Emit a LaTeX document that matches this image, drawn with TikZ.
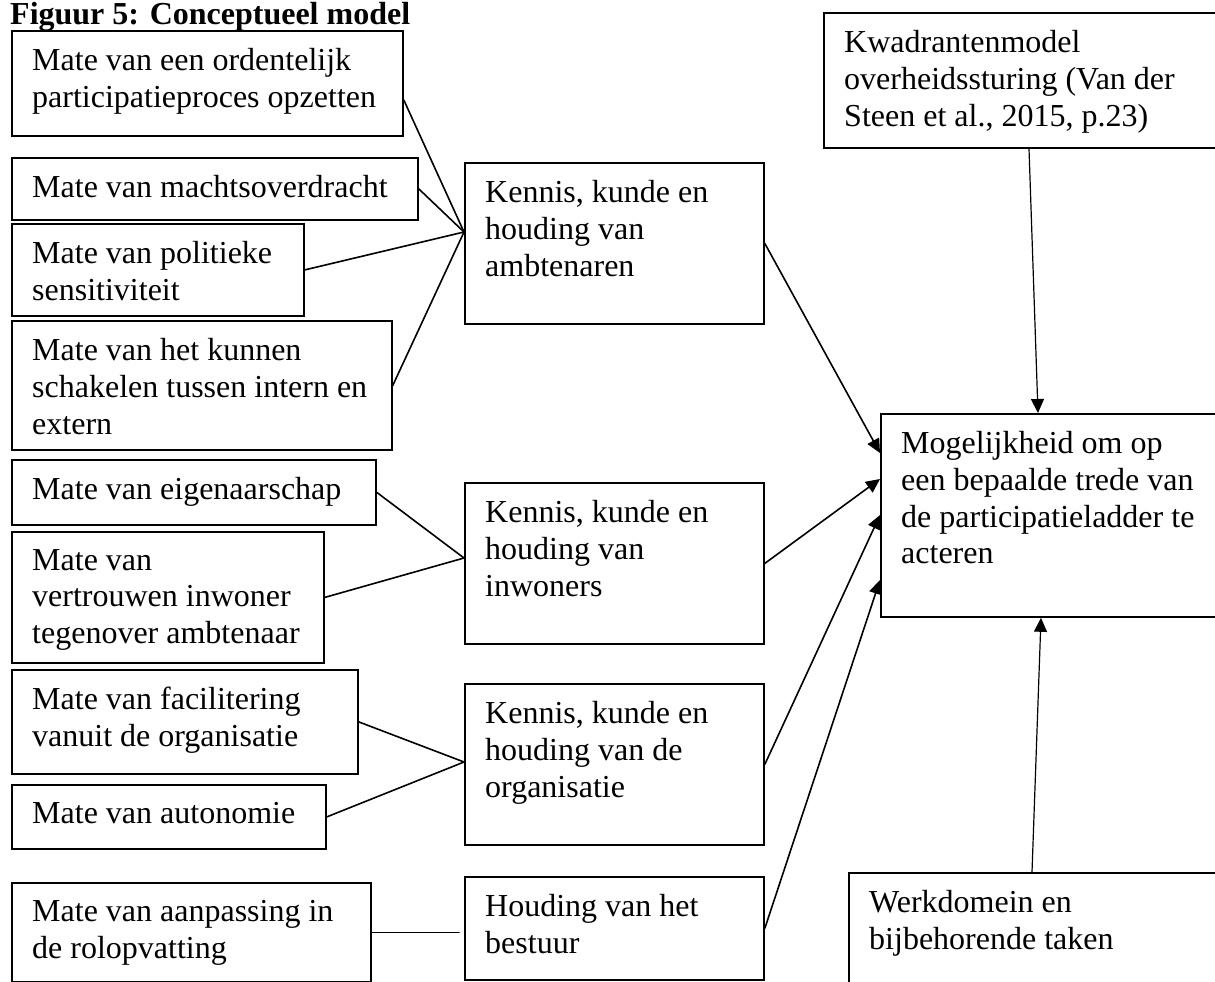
\documentclass[tikz,border=0pt]{standalone}
\usepackage{fontspec}
\setmainfont{Liberation Serif}
\usetikzlibrary{arrows.meta}
\tikzset{
  boxst/.style={draw=black, line width=1.8pt, inner sep=0pt, anchor=north west, fill=white},
  txt/.style={anchor=north west, inner sep=0pt, align=left, font=\fontsize{32}{36.8}\selectfont},
  link/.style={line width=1.6pt, line cap=round},
  arr/.style={line width=1.6pt, -{Triangle[length=14pt,width=13pt]}},
  varr/.style={line width=1.2pt, -{Triangle[length=14pt,width=13pt]}}
}
% \mkbox{name}{x1}{y1}{x2}{y2}{text}
\newcommand{\mkbox}[6]{%
  \node[boxst, minimum width=#4pt-#2pt, minimum height=#5pt-#3pt] (#1) at (#2,#3) {};
  \node[txt] (#1-t) at ([xshift=21pt,yshift=-18pt]#1.north west) {#6};
}
\begin{document}
\begin{tikzpicture}[x=1pt,y=-1pt]
\clip (0,0) rectangle (1215,982);
\fill[white] (0,0) rectangle (1215,982);

\node[anchor=base west, inner sep=0pt, font=\fontsize{32}{36.8}\selectfont\bfseries] (title) at (10,24.5) {Figuur 5: Conceptueel model};

% left column
\mkbox{A1}{11}{30}{402}{135}{Mate van een ordentelijk\\participatieproces opzetten}
\mkbox{A2}{11}{157}{417}{219}{Mate van machtsoverdracht}
\mkbox{A3}{11}{223}{303}{315}{Mate van politieke\\sensitiviteit}
\mkbox{A4}{11}{320}{391}{449}{Mate van het kunnen\\schakelen tussen intern en\\extern}
\mkbox{B1}{11}{459}{375}{524}{Mate van eigenaarschap}
\mkbox{B2}{11}{531}{323}{662}{Mate van\\vertrouwen inwoner\\tegenover ambtenaar}
\mkbox{C1}{11}{669}{357}{773}{Mate van facilitering\\vanuit de organisatie}
\mkbox{C2}{11}{784}{325}{848}{Mate van autonomie}
\mkbox{D1}{11}{882}{370}{981}{Mate van aanpassing in\\de rolopvatting}

% middle column
\mkbox{M1}{464}{162}{763}{323}{Kennis, kunde en\\houding van\\ambtenaren}
\mkbox{M2}{464}{482}{763}{643}{Kennis, kunde en\\houding van\\inwoners}
\mkbox{M3}{464}{683}{763}{844}{Kennis, kunde en\\houding van de\\organisatie}
\mkbox{M4}{464}{876}{763}{979}{Houding van het\\bestuur}

% right column
\mkbox{R1}{823}{12}{1230}{147}{Kwadrantenmodel\\overheidssturing (Van der\\Steen et al., 2015, p.23)}
\mkbox{R2}{880}{413}{1230}{616}{Mogelijkheid om op\\een bepaalde trede van\\de participatieladder te\\acteren}
\mkbox{R3}{848}{872}{1230}{1000}{Werkdomein en\\bijbehorende taken}

% left connectors
\coordinate (jA) at ([yshift=-70pt]M1.north west);
\coordinate (jB) at ([yshift=-76pt]M2.north west);
\coordinate (jC) at ([yshift=-79pt]M3.north west);
\draw[link] ([yshift=-70pt]A1.north east) -- (jA);
\draw[link] (A2.east) -- (jA);
\draw[link] (A3.east) -- (jA);
\draw[link] (A4.east) -- (jA);
\draw[link] (B1.east) -- (jB);
\draw[link] (B2.east) -- (jB);
\draw[link] (C1.east) -- (jC);
\draw[link] (C2.east) -- (jC);
\draw[link] (D1.east) -- ([xshift=-5pt]D1.east -| M4.west);

% arrows into R2
\draw[arr] (M1.east) -- ([yshift=-40pt]R2.north west);
\draw[arr] (M2.east) -- ([yshift=-66pt]R2.north west);
\draw[arr] (M3.east) -- ([yshift=-102pt]R2.north west);
\draw[arr] (M4.east) -- ([yshift=-167pt]R2.north west);
\draw[varr] ([xshift=206pt]R1.south west) -- ([xshift=158pt]R2.north west);
\draw[varr] ([xshift=184pt]R3.north west) -- ([xshift=161pt]R2.south west);
\end{tikzpicture}
\end{document}
